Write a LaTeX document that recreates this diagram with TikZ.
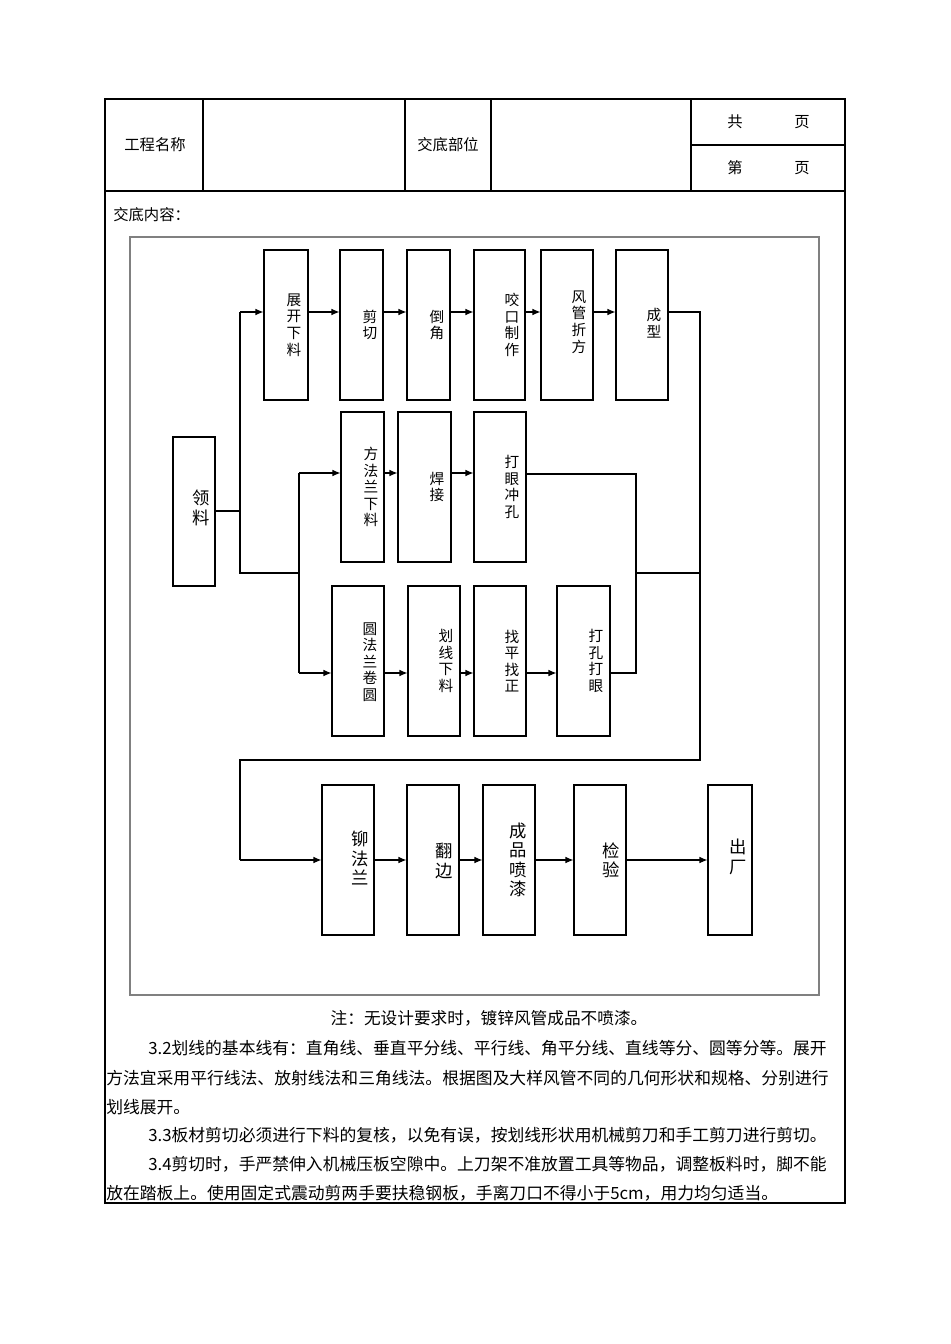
\documentclass[tikz,border=0pt]{standalone}
\usepackage{fontspec}
\setmainfont{Noto Sans CJK SC}
\usetikzlibrary{fit,arrows.meta}
\begin{document}
\begin{tikzpicture}[x=0.75pt,y=-0.75pt,
  box/.style={draw,line width=0.8pt,inner sep=0pt},
  lbl/.style={font=\fontsize{11}{12.4}\selectfont,align=center,inner sep=0pt},
  big/.style={font=\fontsize{13}{14.5}\selectfont},
  ln/.style={line width=0.8pt},
  arr/.style={line width=0.8pt,-{Latex[length=6pt,width=5pt]}},
  txt/.style={font=\fontsize{11.5}{13}\selectfont,inner sep=0pt},
  para/.style={font=\fontsize{12.6}{14}\selectfont,inner sep=0pt,anchor=west}]
\useasboundingbox[fill=white] (0,0) rectangle (950,1344);
% table
\draw[line width=1pt] (105,99) rectangle (845,1203);
\draw[ln] (105,191) -- (845,191);
\foreach \x in {203,405,491,691} \draw[ln] (\x,99) -- (\x,191);
\draw[ln] (691,145) -- (845,145);
\node[txt] (t1) at (155,145) {工程名称};
\node[txt] (t2) at (448,145) {交底部位};
\node[txt] (t3) at (735,122) {共};
\node[txt] (t4) at (802,122) {页};
\node[txt] (t5) at (735,168) {第};
\node[txt] (t6) at (802,168) {页};
\node[txt,anchor=west] (t7) at (113,215) {交底内容：};
\draw[draw=gray,line width=0.8pt] (130,237) rectangle (819,995);
% boxes
\newcommand\bx[9][]{\node[box,fit={(#3,#4)(#5,#6)}] (#2) {};\node[lbl,#1] at (#7,#8) {#9};}
\bx{zk}{264}{250}{308}{400}{294}{325}{展\\开\\下\\料}
\bx{jq}{340}{250}{383}{400}{370}{325}{剪\\切}
\bx{dj}{407}{250}{450}{400}{437}{325}{倒\\角}
\bx{yk}{474}{250}{525}{400}{512}{325}{咬\\口\\制\\作}
\bx{fg}{541}{250}{593}{400}{579}{322}{风\\管\\折\\方}
\bx{cx}{616}{250}{668}{400}{654}{323}{成\\型}
\bx[big]{ll}{173}{437}{215}{586}{201}{508}{领\\料}
\bx{ff}{341}{412}{384}{562}{371}{487}{方\\法\\兰\\下\\料}
\bx{hj}{398}{412}{451}{562}{437}{487}{焊\\接}
\bx{dy}{474}{412}{526}{562}{512}{487}{打\\眼\\冲\\孔}
\bx{yf}{332}{586}{384}{736}{370}{662}{圆\\法\\兰\\卷\\圆}
\bx{hx}{408}{586}{460}{736}{446}{661}{划\\线\\下\\料}
\bx{zp}{474}{586}{526}{736}{512}{661}{找\\平\\找\\正}
\bx{dk}{557}{586}{610}{736}{596}{661}{打\\孔\\打\\眼}
\bx[big]{mf}{322}{785}{374}{935}{360}{858}{铆\\法\\兰}
\bx[big]{fb}{407}{785}{459}{935}{444}{861}{翻\\边}
\bx[big]{cp}{483}{785}{535}{935}{518}{860}{成\\品\\喷\\漆}
\bx[big]{jy}{574}{785}{626}{935}{611}{860}{检\\验}
\bx[big]{cc}{708}{785}{752}{935}{738}{857}{出\\厂}
% connectors row 1
\draw[ln] (ll.east |- 0,511) -- (240,511);
\draw[ln] (240,312) -- (240,573) -- (299,573);
\draw[arr] (240,312) -- (zk.west |- 0,312);
\draw[arr] (zk.east |- 0,312) -- (jq.west |- 0,312);
\draw[arr] (jq.east |- 0,312) -- (dj.west |- 0,312);
\draw[arr] (dj.east |- 0,312) -- (yk.west |- 0,312);
\draw[arr] (yk.east |- 0,312) -- (fg.west |- 0,312);
\draw[arr] (fg.east |- 0,312) -- (cx.west |- 0,312);
\draw[ln] (cx.east |- 0,312) -- (700,312) -- (700,760) -- (240,760) -- (240,860);
\draw[arr] (240,860) -- (mf.west |- 0,860);
% row 2
\draw[ln] (299,473) -- (299,673);
\draw[arr] (299,473) -- (ff.west |- 0,473);
\draw[arr] (ff.east |- 0,473) -- (hj.west |- 0,473);
\draw[arr] (hj.east |- 0,473) -- (dy.west |- 0,473);
\draw[ln] (dy.east |- 0,474) -- (636,474) -- (636,673) -- (dk.east |- 0,673);
\draw[ln] (636,573) -- (700,573);
% row 3
\draw[arr] (299,673) -- (yf.west |- 0,673);
\draw[arr] (yf.east |- 0,673) -- (hx.west |- 0,673);
\draw[arr] (hx.east |- 0,673) -- (zp.west |- 0,673);
\draw[arr] (zp.east |- 0,673) -- (dk.west |- 0,673);
% row 4
\draw[arr] (mf.east |- 0,860) -- (fb.west |- 0,860);
\draw[arr] (fb.east |- 0,860) -- (cp.west |- 0,860);
\draw[arr] (cp.east |- 0,860) -- (jy.west |- 0,860);
\draw[arr] (jy.east |- 0,860) -- (cc.west |- 0,860);
% text
\node[txt,font=\fontsize{12.5}{14}\selectfont] (n0) at (489,1018) {注：无设计要求时，镀锌风管成品不喷漆。};
\node[para] (p1) at (148,1048) {3.2划线的基本线有：直角线、垂直平分线、平行线、角平分线、直线等分、圆等分等。展开};
\node[para] (p2) at (106,1078) {方法宜采用平行线法、放射线法和三角线法。根据图及大样风管不同的几何形状和规格、分别进行};
\node[para] (p3) at (106,1107) {划线展开。};
\node[para] (p4) at (148,1135) {3.3板材剪切必须进行下料的复核，以免有误，按划线形状用机械剪刀和手工剪刀进行剪切。};
\node[para] (p5) at (148,1164) {3.4剪切时，手严禁伸入机械压板空隙中。上刀架不准放置工具等物品，调整板料时，脚不能};
\node[para] (p6) at (106,1193) {放在踏板上。使用固定式震动剪两手要扶稳钢板，手离刀口不得小于5cm，用力均匀适当。};
\end{tikzpicture}
\end{document}
